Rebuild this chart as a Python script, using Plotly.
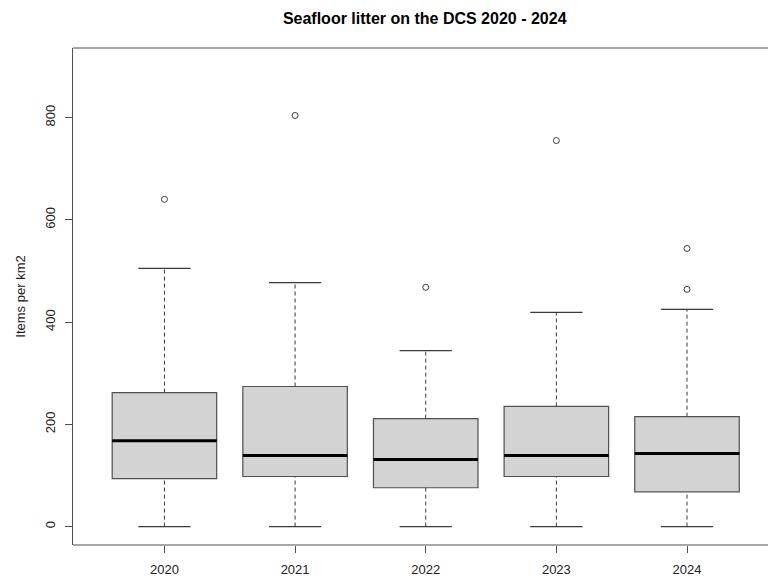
import plotly.graph_objects as go

years = ["2020", "2021", "2022", "2023", "2024"]
positions = [1, 2, 3, 4, 5]
lower_whisker = [0, 0, 0, 0, 0]
q1 = [94, 98, 76, 98, 68]
median = [168, 139, 131, 139, 143]
q3 = [262, 274, 211, 235, 215]
upper_whisker = [505, 477, 344, 419, 425]
outlier_x = [1, 2, 3, 4, 5, 5]
outlier_y = [640, 804, 468, 755, 544, 464]

title = "Seafloor litter on the DCS 2020 - 2024"
y_label = "Items per km2"

box_w = 0.8
cap_w = 0.4
font = "Liberation Sans, Arial, sans-serif"
line_col = "#3a3a3a"
axis_col = "#505050"

fig = go.Figure()

# whiskers (dashed) and caps
for i, x in enumerate(positions):
    for a, b in ((lower_whisker[i], q1[i]), (q3[i], upper_whisker[i])):
        fig.add_trace(go.Scatter(x=[x, x], y=[a, b], mode="lines",
                                 line=dict(color=line_col, width=1, dash="4px,3px"),
                                 showlegend=False, hoverinfo="skip"))
    for v in (lower_whisker[i], upper_whisker[i]):
        fig.add_trace(go.Scatter(x=[x - cap_w / 2, x + cap_w / 2], y=[v, v], mode="lines",
                                 line=dict(color=line_col, width=1.2),
                                 showlegend=False, hoverinfo="skip"))

# boxes
fig.add_trace(go.Box(x=positions, q1=q1, median=median, q3=q3,
                     lowerfence=q1, upperfence=q3, width=box_w,
                     fillcolor="#D3D3D3", line=dict(color=axis_col, width=1.2),
                     boxpoints=False, whiskerwidth=0, showlegend=False, hoverinfo="skip"))

# thick medians
for i, x in enumerate(positions):
    fig.add_trace(go.Scatter(x=[x - box_w / 2, x + box_w / 2], y=[median[i], median[i]],
                             mode="lines", line=dict(color="black", width=3),
                             showlegend=False, hoverinfo="skip"))

# outliers
fig.add_trace(go.Scatter(x=outlier_x, y=outlier_y, mode="markers",
                         marker=dict(symbol="circle-open", size=6, color=line_col,
                                     line=dict(width=1)),
                         showlegend=False, hoverinfo="skip"))

# frame lines (top and bottom run off the right edge, as in the reference)
for yy in (0, 1):
    fig.add_shape(type="line", xref="paper", yref="paper", x0=0, x1=1.05, y0=yy, y1=yy,
                  line=dict(color=axis_col, width=1.2), layer="above")

fig.update_layout(
    width=768, height=579,
    paper_bgcolor="white", plot_bgcolor="white",
    margin=dict(l=73, r=0, t=48, b=34, autoexpand=False),
    font=dict(family=font, size=13, color="#222222"),
    hovermode=False,
    title=dict(text="<b>" + title + "</b>", x=0.553, xanchor="center", y=0.968, yanchor="middle",
               font=dict(size=16, color="black")),
    xaxis=dict(range=[0.3, 5.62], tickmode="array", tickvals=positions, ticktext=years,
               showgrid=False, zeroline=False, showline=False,
               ticks="outside", ticklen=7, tickcolor=axis_col,
               ticklabelstandoff=5),
    yaxis=dict(range=[-36, 936], tickvals=[0, 200, 400, 600, 800], tickangle=-90,
               showgrid=False, zeroline=False, showline=True, linecolor=axis_col, linewidth=1.2,
               mirror=False, ticks="outside", ticklen=7, tickcolor=axis_col, ticklabelstandoff=5,
               title=dict(text=y_label, font=dict(size=13), standoff=14)),
)

fig.write_html("out.html", config={"displayModeBar": False},
               post_script="document.body.style.margin='0px';document.body.style.overflow='hidden';")
